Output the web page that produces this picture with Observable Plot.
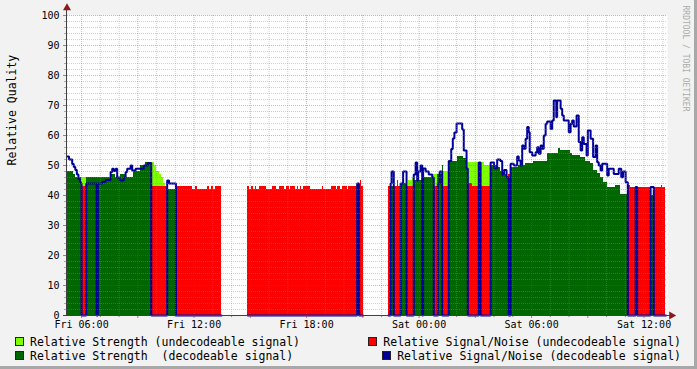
<!DOCTYPE html>
<html><head><meta charset="utf-8">
<script src="https://cdn.jsdelivr.net/npm/d3@7"></script>
<script src="https://cdn.jsdelivr.net/npm/@observablehq/plot@0.6"></script>
<style>
html,body{margin:0;padding:0;background:#F2F2F2;}
#wrap{position:relative;width:697px;height:369px;background:#F2F2F2;overflow:hidden;font-family:"DejaVu Sans Mono",monospace;}
#chart{position:absolute;left:0;top:0;}
.edge{position:absolute;background:#A8A8A8;}
.li{position:absolute;display:flex;align-items:center;height:12px;font-size:11.5px;white-space:pre;color:#000;}
.sw{width:7px;height:7px;border:1px solid #222;margin-right:6px;}
</style></head><body>
<div id="wrap"><div id="chart"></div>
<div class="edge" style="right:0;top:0;width:3px;height:369px"></div>
<div class="edge" style="left:0;bottom:0;width:697px;height:3px"></div>
</div>
<script>
// time in minutes from Friday 00:00 (>=1440 is Saturday)
const strength = [
[315,48],[335,47],[342,46],[455,47],[470,46],[485,47],[505,46],[525,48],[550,50],[565,51],
[592,50],[600,48],[608,47],[616,46],[622,44],[628,42],[634,42],[662,40],[808,null],
[892,40],[1242,42],[1248,40],[1261,null],
[1342,40],[1349,43],[1359,40],[1381,44],[1400,43],[1407,45],[1418,46],[1423,45],[1453,46],[1487,47],
[1514,50],[1519,48],[1535,51.5],[1562,53],[1583,52.5],[1596,51],[1649,50],[1695,49.5],[1700,48],
[1712,47],[1720,46.5],[1727,47],[1733,49.4],[1759,50],[1781,50.6],[1807,51.4],[1850,53.9],[1887,55.6],
[1893,55],[1925,54],[1930,53.5],[1957,52.8],[1973,51.5],[1989,50.6],[1999,48.3],[2010,47.2],[2021,46.1],
[2031,44.4],[2042,42.8],[2069,43.3],[2085,40.5],[2108,40],[2230,null]
];
const snr = [
[315,53],[320,52],[330,50.5],[335,49.5],[340,48.5],[345,47],[350,45.5],[355,44.5],[358,44],
[360,43],[375,44],[408,0],[412,44],[426,44.5],[437,45.2],[453,47.8],[458,48.9],[463,48.2],[469,48.9],
[474,46],[482,45],[495,46],[501,47.8],[506,48.9],[517,50],[522,48.3],[533,48.9],[559,50],[572,50.8],
[583,43],[634,45],[640,44],
[662,43],[716,42],[725,43],[730,42],[762,43],[770,42],[777,43],[782,42],[790,43],[808,null],
[892,43],[898,42],[903,43],[910,42],[915,43],[921,42],[930,43],[953,42],[970,43],[985,42],[993,43],
[1010,42],[1015,43],[1025,42],[1030,43],[1043,42],[1050,43],[1055,42],[1060,43],[1065,42],[1070,43],
[1093,42],[1130,43],[1133,42],[1160,43],[1175,42],[1180,43],[1190,42],[1195,43],[1210,42],[1215,43],
[1242,44],[1248,43],[1254,45],[1256,43],[1261,null],
[1342,43],[1349,44],[1352,48],[1359,43],[1370,45],[1373,43],[1381,44],[1389,48],[1400,43],[1423,47],
[1429,51],[1434,45],[1437,48],[1445,50],[1450,0],[1453,49],[1461,48],[1471,47],[1482,46],[1487,43],
[1500,44],[1506,48],[1514,0],[1519,43],[1535,51.5],[1543,55.5],[1548,59],[1553,61],[1560,64],[1578,62],
[1583,55],[1592,49],[1596,43],[1599,44],[1610,43],[1631,51],[1637,43],[1669,51],[1680,49],[1690,52],
[1700,51.5],[1706,47],[1712,48.5],[1720,46],[1727,47],[1733,50.6],[1743,50],[1754,53],[1759,51.7],
[1765,50],[1770,56.7],[1775,55.6],[1781,58.9],[1786,62.8],[1791,61.1],[1794,54.4],[1802,53.3],
[1813,54.4],[1818,56.1],[1823,53.9],[1829,56.7],[1834,55.6],[1839,60],[1845,63.9],[1850,64.7],
[1861,62.2],[1866,65],[1871,71.7],[1879,66.1],[1882,71.7],[1893,68.9],[1898,66.7],[1903,65],
[1919,61.1],[1925,63.9],[1930,65],[1935,63],[1944,66.7],[1951,57.8],[1957,55],[1962,59.4],[1967,57.2],
[1976,53.3],[1980,61.7],[1989,58.9],[1997,52.8],[2005,56.7],[2010,51.1],[2015,50],[2021,48.3],
[2026,50.6],[2042,46.7],[2047,48.9],[2063,47.2],[2079,48.9],[2087,46.1],[2093,48],[2101,44.4],
[2108,43.3],[2117,42.8],[2216,43.5],[2220,42.8],[2230,null]
];
const undecodeable = [
[360,375],[583,634],[662,808],[892,1242],[1248,1261],[1342,1349],[1359,1381],[1400,1423],
[1487,1500],[1519,1535],[1596,1631],[1637,1669],[1727,1733],[2108,2133],[2138,2181],[2191,2230]
];
const xLabelTimes = [360,720,1080,1440,1800,2160];
const yTickValues = [0,10,20,30,40,50,60,70,80,90,100];
const legendLabels = [
"Relative Strength (undecodeable signal)",
"Relative Signal/Noise (undecodeable signal)",
"Relative Strength  (decodeable signal)",
"Relative Signal/Noise (decodeable signal)"
];
const yTitle = "Relative Quality";
const watermark = "RRDTOOL / TOBI OETIKER";

const LIGHT = "#80FF00", DARK = "#006600", RED = "#FF0000", BLUE = "#000099";
const legendColors = [LIGHT, RED, DARK, BLUE];

const DAY0 = Date.UTC(2014,0,3); // a Friday
const toDate = m => new Date(DAY0 + m*60000);
const tStart = 315, tEnd = 2235, dataEnd = 2230;
const pxMin = (tEnd - tStart)/600; // minutes per pixel

function stepVal(arr, t){ let v = null; for (const [m,x] of arr){ if (m <= t) v = x; else break; } return v; }
const isUndec = t => undecodeable.some(([a,b]) => t >= a && t < b);
const times = [...new Set([...strength.map(d=>d[0]), ...snr.map(d=>d[0]), ...undecodeable.flat(), dataEnd])]
  .filter(t => t <= dataEnd).sort((a,b)=>a-b);
const intervals = [];
for (let i = 0; i < times.length-1; i++){
  const a = times[i], b = times[i+1];
  const s = stepVal(strength, a), n = stepVal(snr, a);
  if (s == null && n == null) continue;
  intervals.push({a: toDate(a), b: toDate(b), am: a, bm: b, s, n, u: isUndec(a)});
}
const linePts = [];
intervals.forEach((d,i) => {
  const v = d.u ? 0 : d.n;
  linePts.push({t: d.a, v});
  const next = intervals[i+1];
  if (!next || next.am !== d.bm){ linePts.push({t: d.b, v}); linePts.push({t: d.b, v: NaN}); }
});

const hours = d3.range(360, tEnd, 60);
const minorH = hours.filter(m => m % 180 !== 0).map(toDate);
const majorH = hours.filter(m => m % 180 === 0).map(toDate);
const minorY = d3.range(2, 100, 2).filter(v => v % 10 !== 0);
const majorY = d3.range(10, 101, 10);
const fmt = d3.utcFormat("%a %H:%M");
const GRIDC = "#8C8C8C", MGRIDC = "#C83232";

const chart = Plot.plot({
  width: 697, height: 332,
  marginLeft: 67, marginRight: 30, marginTop: 15, marginBottom: 17,
  x: {type: "utc", domain: [toDate(tStart), toDate(tEnd)], axis: null},
  y: {domain: [0, 100], axis: null},
  style: {background: "transparent", fontFamily: "DejaVu Sans Mono", fontSize: "10px", overflow: "visible"},
  marks: [
    Plot.frame({fill: "white", stroke: "none"}),
    Plot.rect(intervals.filter(d => d.u && d.s != null), {x1: "a", x2: "b", y1: 0, y2: "s", fill: LIGHT, shapeRendering: "crispEdges"}),
    Plot.rect(intervals.filter(d => !d.u && d.s != null), {x1: "a", x2: "b", y1: 0, y2: "s", fill: DARK, shapeRendering: "crispEdges"}),
    Plot.rect(intervals.filter(d => d.u && d.n != null), {x1: "a", x2: "b", y1: 0, y2: "n", fill: RED, shapeRendering: "crispEdges"}),
    Plot.line(linePts, {x: "t", y: "v", curve: "step-after", stroke: BLUE, strokeWidth: 2, strokeLinejoin: "miter"}),
    // grid
    Plot.ruleX(minorH, {stroke: GRIDC, strokeOpacity: 0.4, strokeDasharray: "1,1"}),
    Plot.ruleY(minorY, {stroke: GRIDC, strokeOpacity: 0.4, strokeDasharray: "1,1"}),
    Plot.ruleX(majorH, {stroke: MGRIDC, strokeOpacity: 0.4, strokeDasharray: "1,1"}),
    Plot.ruleY(majorY, {stroke: MGRIDC, strokeOpacity: 0.4, strokeDasharray: "1,1"}),
    // tick marks outside the axes
    Plot.ruleX(minorH, {y1: 0, y2: -0.7, stroke: GRIDC}),
    Plot.ruleX(majorH, {y1: 0, y2: -1, stroke: MGRIDC, strokeOpacity: 0.7}),
    Plot.ruleY(minorY, {x1: toDate(tStart - 3*pxMin), x2: toDate(tStart - 1*pxMin), stroke: GRIDC, strokeOpacity: 0.7}),
    Plot.ruleY(majorY, {x1: toDate(tStart - 4*pxMin), x2: toDate(tStart - 1*pxMin), stroke: MGRIDC, strokeOpacity: 0.7}),
    // axes
    Plot.ruleY([0], {x1: toDate(tStart - 4*pxMin), x2: toDate(tEnd + 3*pxMin), stroke: "#404040"}),
    Plot.ruleX([toDate(tStart)], {y1: 0, y2: 102, stroke: "#404040", dx: -1}),
    Plot.dot([0], {x: toDate(tEnd + 4*pxMin), y: 0, symbol: "triangle", r: 3, fill: "#8B1A1A", stroke: "none", rotate: 90}),
    Plot.dot([0], {x: toDate(tStart), y: 102.5, symbol: "triangle", r: 3, fill: "#8B1A1A", stroke: "none", dx: -0.5}),
    // labels
    Plot.text(xLabelTimes, {x: d => toDate(d), y: 0, text: d => fmt(toDate(d)), dy: 9.5, fontSize: 10, fill: "#000"}),
    Plot.text(yTickValues, {x: toDate(tStart), y: d => d, text: d => String(d), textAnchor: "end", dx: -8, fontSize: 10, fill: "#000"}),
    Plot.text([yTitle], {frameAnchor: "left", rotate: -90, dx: -55, fontSize: 11.5, fill: "#000"}),
    Plot.text([watermark], {frameAnchor: "top-right", rotate: 90, dx: 21, dy: -10, textAnchor: "start", fontSize: 8, fill: "#ABABAB"})
  ]
});
document.getElementById("chart").appendChild(chart);

// legend
const wrap = document.getElementById("wrap");
legendLabels.forEach((lab, i) => {
  const row = Math.floor(i/2), right = i % 2 === 1;
  const el = document.createElement("div");
  el.className = "li";
  el.style.top = (335.5 + row*14) + "px";
  if (right) el.style.right = "16px"; else el.style.left = "15px";
  const sw = document.createElement("div");
  sw.className = "sw"; sw.style.background = legendColors[i];
  const tx = document.createElement("span"); tx.textContent = lab;
  el.appendChild(sw); el.appendChild(tx);
  wrap.appendChild(el);
});
</script>
</body></html>
